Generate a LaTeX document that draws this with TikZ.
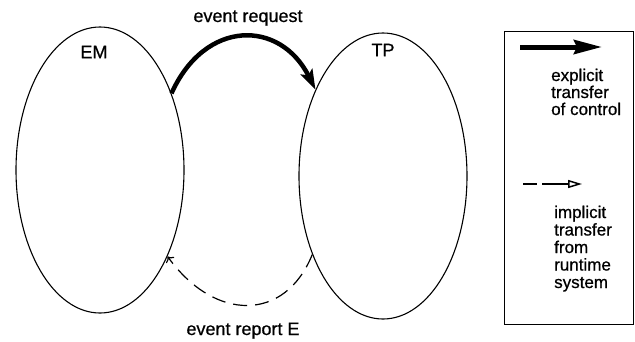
\documentclass[tikz,border=0pt]{standalone}
\usepackage{fontspec}
\setmainfont{Liberation Sans}
\newfontfamily\hvheavy{Liberation Sans}[FakeBold=0.7]
\usetikzlibrary{shapes.geometric,arrows.meta}
\begin{document}
\begin{tikzpicture}[x=1pt,y=-1pt,
  proc/.style={draw, ellipse, line width=1.1pt, minimum width=168pt, minimum height=286pt, inner sep=0pt},
  lbl/.style={font=\hvheavy\fontsize{18}{18}\selectfont, inner sep=0pt},
  legtext/.style={font=\hvheavy\fontsize{17}{17}\selectfont, inner sep=0pt, anchor=base west},
  explicitarrow/.style={line width=4.5pt, -{Stealth[length=20pt,width=13pt,inset=4pt]}},
  implicitarrow/.style={line width=1.2pt, dash pattern=on 14pt off 8pt, -{To[length=5pt,width=10pt]}},
  legexplicit/.style={line width=5pt, -{Stealth[length=28pt,width=14pt,inset=3pt]}},
  legimplicit/.style={line width=1.5pt, dash pattern=on 14pt off 5pt on 60pt off 0pt, -{Triangle[open,length=14pt,width=8pt]}},
]
\useasboundingbox (0,0) rectangle (635,341);
\node[proc] (em) at (100,170) {};
\node[proc] (tp) at (383,176) {};
\node[lbl] (emlabel) at (94,52) {EM};
\node[lbl] (tplabel) at (383,50) {TP};
\node[lbl, anchor=base] (req) at (248,22) {event request};
\node[lbl, anchor=base] (rep) at (243,335) {event report E};
\draw[explicitarrow] (em.47) .. controls (205,19) and (280,19) .. (tp.128);
\draw[implicitarrow] (tp.228) .. controls (285,322) and (215,322) .. (em.308);
% legend
\node[draw, line width=1pt, minimum width=129pt, minimum height=293pt, anchor=north west, inner sep=0pt] (legend) at (504,31) {};
\coordinate (ea) at (520,47);
\coordinate (eb) at (602,47);
\draw[legexplicit] (ea) -- (eb);
\coordinate (ia) at (523,184);
\coordinate (ib) at (582,184);
\draw[legimplicit] (ia) -- (ib);
\node[legtext] (e1) at (551,81) {explicit};
\node[legtext] (e2) at (551,98) {transfer};
\node[legtext] (e3) at (551,115) {of control};
\node[legtext] (i1) at (554,218) {implicit};
\node[legtext] (i2) at (554,235.5) {transfer};
\node[legtext] (i3) at (554,253) {from};
\node[legtext] (i4) at (554,270.5) {runtime};
\node[legtext] (i5) at (554,288) {system};
\end{tikzpicture}
\end{document}
